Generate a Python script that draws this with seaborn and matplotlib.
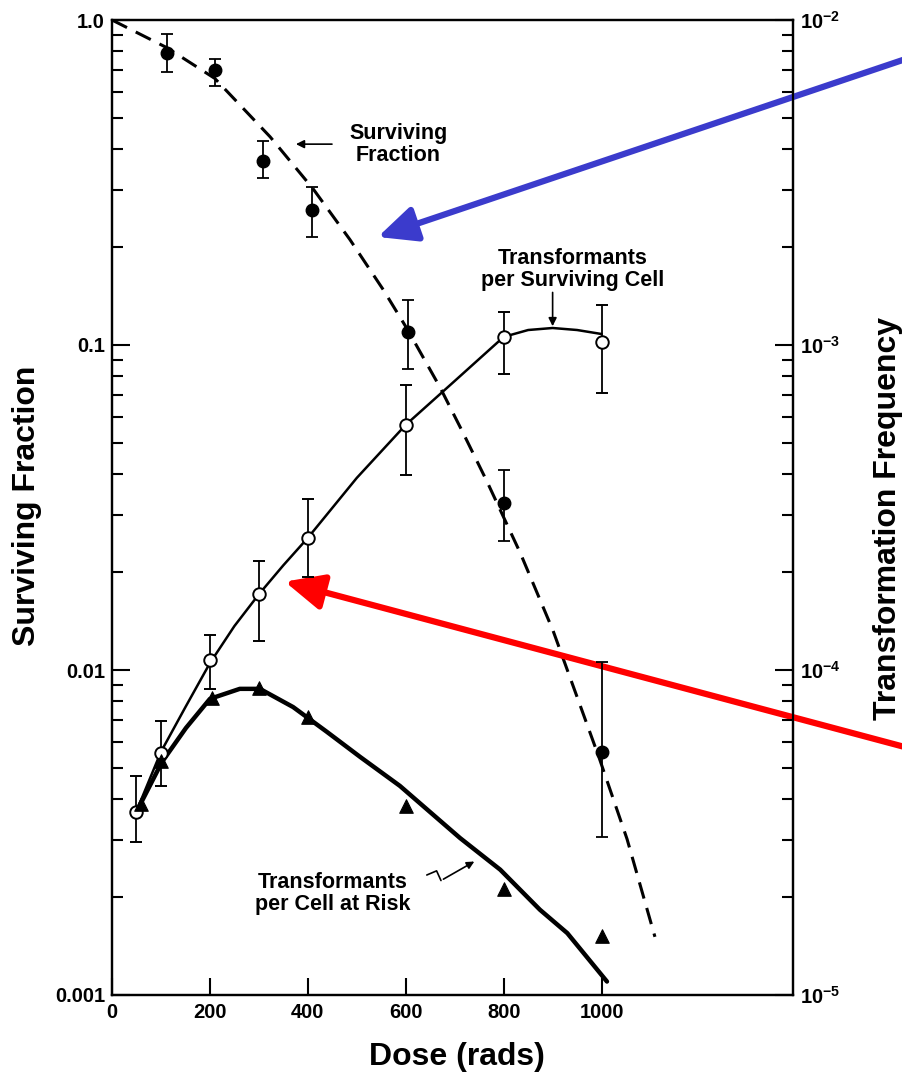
import matplotlib
matplotlib.use("Agg")
import matplotlib.pyplot as plt
import seaborn as sns
import numpy as np
import pandas as pd
from matplotlib.ticker import LogLocator, FixedLocator, FixedFormatter, NullFormatter

# surviving fraction (filled circles, left axis)
sf_dose = [112, 210, 308, 409, 605, 800, 1000]
sf_val = [0.79, 0.70, 0.367, 0.26, 0.1096, 0.0327, 0.0056]
sf_hi = [0.905, 0.76, 0.425, 0.306, 0.138, 0.0412, 0.0106]
sf_lo = [0.69, 0.627, 0.326, 0.215, 0.0844, 0.025, 0.00307]

# dashed survival curve
sf_curve_dose = [0, 112, 210, 323, 411, 486, 554, 603, 670, 717, 766, 834, 901, 995, 1052, 1109]
sf_curve_val = [1.0, 0.822, 0.661, 0.437, 0.302, 0.211, 0.148, 0.112, 0.0741, 0.0537,
                0.038, 0.0229, 0.0132, 0.00537, 0.00302, 0.00151]

# transformants per surviving cell (open circles, right axis)
ts_dose = [50, 100, 200, 300, 400, 600, 800, 1000]
ts_val = [3.66e-5, 5.57e-5, 1.074e-4, 1.71e-4, 2.55e-4, 5.68e-4, 1.06e-3, 1.02e-3]
ts_hi = [4.73e-5, 6.98e-5, 1.28e-4, 2.16e-4, 3.36e-4, 7.53e-4, 1.266e-3, 1.328e-3]
ts_lo = [2.96e-5, 4.40e-5, 8.75e-5, 1.23e-4, 1.93e-4, 3.98e-4, 8.14e-4, 7.11e-4]

ts_curve_dose = [50, 100, 150, 200, 250, 300, 350, 400, 500, 600, 700, 800, 850, 900, 950, 1000]
ts_curve_val = [3.68e-5, 5.6e-5, 7.69e-5, 1.05e-4, 1.365e-4, 1.71e-4, 2.10e-4, 2.55e-4,
                3.90e-4, 5.68e-4, 7.75e-4, 1.059e-3, 1.112e-3, 1.128e-3, 1.112e-3, 1.081e-3]

# transformants per cell at risk (triangles, right axis)
tr_dose = [60, 100, 205, 300, 400, 600, 800, 1000]
tr_val = [3.87e-5, 5.25e-5, 8.2e-5, 8.8e-5, 7.16e-5, 3.82e-5, 2.12e-5, 1.52e-5]

tr_curve_dose = [57, 102, 151, 200, 261, 302, 370, 439, 507, 588, 711, 793, 874, 930, 1011]
tr_curve_val = [3.84e-5, 5.21e-5, 6.63e-5, 8.15e-5, 8.75e-5, 8.75e-5, 7.69e-5, 6.45e-5,
                5.40e-5, 4.40e-5, 3.04e-5, 2.43e-5, 1.83e-5, 1.55e-5, 1.10e-5]

x_ticks = [0, 200, 400, 600, 800, 1000]
left_ticks = [0.001, 0.01, 0.1, 1.0]
left_labels = ["0.001", "0.01", "0.1", "1.0"]
right_ticks = [1e-5, 1e-4, 1e-3, 1e-2]
right_labels = [r"$10^{-5}$", r"$10^{-4}$", r"$10^{-3}$", r"$10^{-2}$"]

sns.set_style("ticks", {"text.color": "black", "axes.labelcolor": "black",
                        "xtick.color": "black", "ytick.color": "black",
                        "axes.edgecolor": "black",
                        "xtick.direction": "in", "ytick.direction": "in"})
plt.rcParams["font.family"] = ["Liberation Sans", "DejaVu Sans"]
plt.rcParams["font.weight"] = "bold"
plt.rcParams["mathtext.fontset"] = "custom"
plt.rcParams["mathtext.rm"] = "Liberation Sans:bold"
plt.rcParams["mathtext.it"] = "Liberation Sans:bold"
plt.rcParams["mathtext.bf"] = "Liberation Sans:bold"

fig = plt.figure(figsize=(9.03, 10.73), dpi=100)
ax = fig.add_axes([112 / 903, 1 - 995 / 1073, (793 - 112) / 903, (995 - 20) / 1073])
ax2 = ax.twinx()

ax.set_yscale("log")
ax2.set_yscale("log")
ax.set_xlim(0, 1391)
ax.set_ylim(0.001, 1.0)
ax2.set_ylim(1e-5, 1e-2)

# survival
sf_df = pd.DataFrame({"dose": sf_curve_dose, "val": sf_curve_val})
sns.lineplot(data=sf_df, x="dose", y="val", ax=ax, color="black", lw=2.2,
             linestyle=(0, (5.5, 3.2)), sort=False, estimator=None)
sf_err = [np.array(sf_val) - np.array(sf_lo), np.array(sf_hi) - np.array(sf_val)]
ax.errorbar(sf_dose, sf_val, yerr=sf_err, fmt="o", color="black", ms=9,
            elinewidth=1.3, capsize=4.5, capthick=1.3, zorder=5)

# transformants per surviving cell
ts_df = pd.DataFrame({"dose": ts_curve_dose, "val": ts_curve_val})
sns.lineplot(data=ts_df, x="dose", y="val", ax=ax2, color="black", lw=1.8,
             sort=False, estimator=None)
ts_err = [np.array(ts_val) - np.array(ts_lo), np.array(ts_hi) - np.array(ts_val)]
ax2.errorbar(ts_dose, ts_val, yerr=ts_err, fmt="o", color="black", mfc="white",
             mec="black", mew=1.4, ms=9, elinewidth=1.3, capsize=4.5, capthick=1.3, zorder=5)

# transformants per cell at risk
tr_df = pd.DataFrame({"dose": tr_curve_dose, "val": tr_curve_val})
sns.lineplot(data=tr_df, x="dose", y="val", ax=ax2, color="black", lw=3.2,
             sort=False, estimator=None)
sns.scatterplot(x=tr_dose, y=tr_val, ax=ax2, marker="^", color="black", s=95,
                edgecolor="black", zorder=6)

# axes styling
for a in (ax, ax2):
    for s in a.spines.values():
        s.set_linewidth(1.6)
        s.set_color("black")
    a.set_xlabel("")
    a.set_ylabel("")

ax.xaxis.set_major_locator(FixedLocator(x_ticks))
ax.set_xticklabels([str(t) for t in x_ticks])
ax.tick_params(axis="x", direction="in", length=12, width=1.5, labelsize=14.5, pad=6,
               top=False, colors="black")

ax.yaxis.set_major_locator(FixedLocator(left_ticks))
ax.yaxis.set_major_formatter(FixedFormatter(left_labels))
ax.yaxis.set_minor_locator(LogLocator(base=10, subs=np.arange(2, 10)))
ax.yaxis.set_minor_formatter(NullFormatter())
ax.tick_params(axis="y", which="major", direction="in", length=13, width=1.5, labelsize=14.5,
               pad=5, colors="black", right=False)
ax.tick_params(axis="y", which="minor", direction="in", length=8, width=1.5, right=False)

ax2.yaxis.set_major_locator(FixedLocator(right_ticks))
ax2.yaxis.set_major_formatter(FixedFormatter(right_labels))
ax2.yaxis.set_minor_locator(LogLocator(base=10, subs=np.arange(2, 10)))
ax2.yaxis.set_minor_formatter(NullFormatter())
ax2.tick_params(axis="y", which="major", direction="in", length=13, width=1.5, labelsize=14.5,
                pad=5, colors="black", left=False)
ax2.tick_params(axis="y", which="minor", direction="in", length=8, width=1.5, left=False)

for lab in ax.get_xticklabels() + ax.get_yticklabels():
    lab.set_fontweight("bold")

fig.text(27 / 903, 1 - 506 / 1073, "Surviving Fraction", rotation=90, ha="center",
         va="center", fontsize=23, fontweight="bold", color="black")
fig.text(888 / 903, 1 - 518 / 1073, "Transformation Frequency", rotation=90, ha="center",
         va="center", fontsize=23, fontweight="bold", color="black")
fig.text(457 / 903, 1 - 1057 / 1073, "Dose (rads)", ha="center", va="center",
         fontsize=23, fontweight="bold", color="black")

# curve labels
ax.text(585, 0.415, "Surviving\nFraction", ha="center", va="center", fontsize=15.5,
        fontweight="bold", linespacing=1.05, color="black")
ax.annotate("", xy=(370, 0.415), xytext=(455, 0.415),
            arrowprops=dict(arrowstyle="-|>", color="black", lw=1.2, mutation_scale=12))
ax.text(940, 0.171, "Transformants\nper Surviving Cell", ha="center", va="center",
        fontsize=15.5, fontweight="bold", linespacing=1.05, color="black")
ax.annotate("", xy=(900, 0.112), xytext=(900, 0.148),
            arrowprops=dict(arrowstyle="-|>", color="black", lw=1.2, mutation_scale=12))
ax.text(450, 0.00205, "Transformants\nper Cell at Risk", ha="center", va="center",
        fontsize=15.5, fontweight="bold", linespacing=1.05, color="black")
zig_x = [643, 663, 672, 731]
zig_y = [0.00234, 0.00241, 0.00225, 0.00257]
ax.plot(zig_x[:3], zig_y[:3], color="black", lw=1.2)
ax.annotate("", xy=(745, 0.0026), xytext=(zig_x[2], zig_y[2]),
            arrowprops=dict(arrowstyle="-|>", color="black", lw=1.2, mutation_scale=11))

# pointer arrows
ax.annotate("", xy=(543, 0.215), xycoords="data", xytext=(1.01, 0.947),
            textcoords="figure fraction", annotation_clip=False,
            arrowprops=dict(arrowstyle="-|>,head_length=1.3,head_width=0.6",
                            color="#3b3bcc", lw=4.5, mutation_scale=18, shrinkA=0, shrinkB=0))
ax.annotate("", xy=(353, 0.0187), xycoords="data", xytext=(1.01, 0.302),
            textcoords="figure fraction", annotation_clip=False,
            arrowprops=dict(arrowstyle="-|>,head_length=1.3,head_width=0.6",
                            color="#ff0000", lw=4.5, mutation_scale=18, shrinkA=0, shrinkB=0))

fig.savefig("out.png", dpi=100)
